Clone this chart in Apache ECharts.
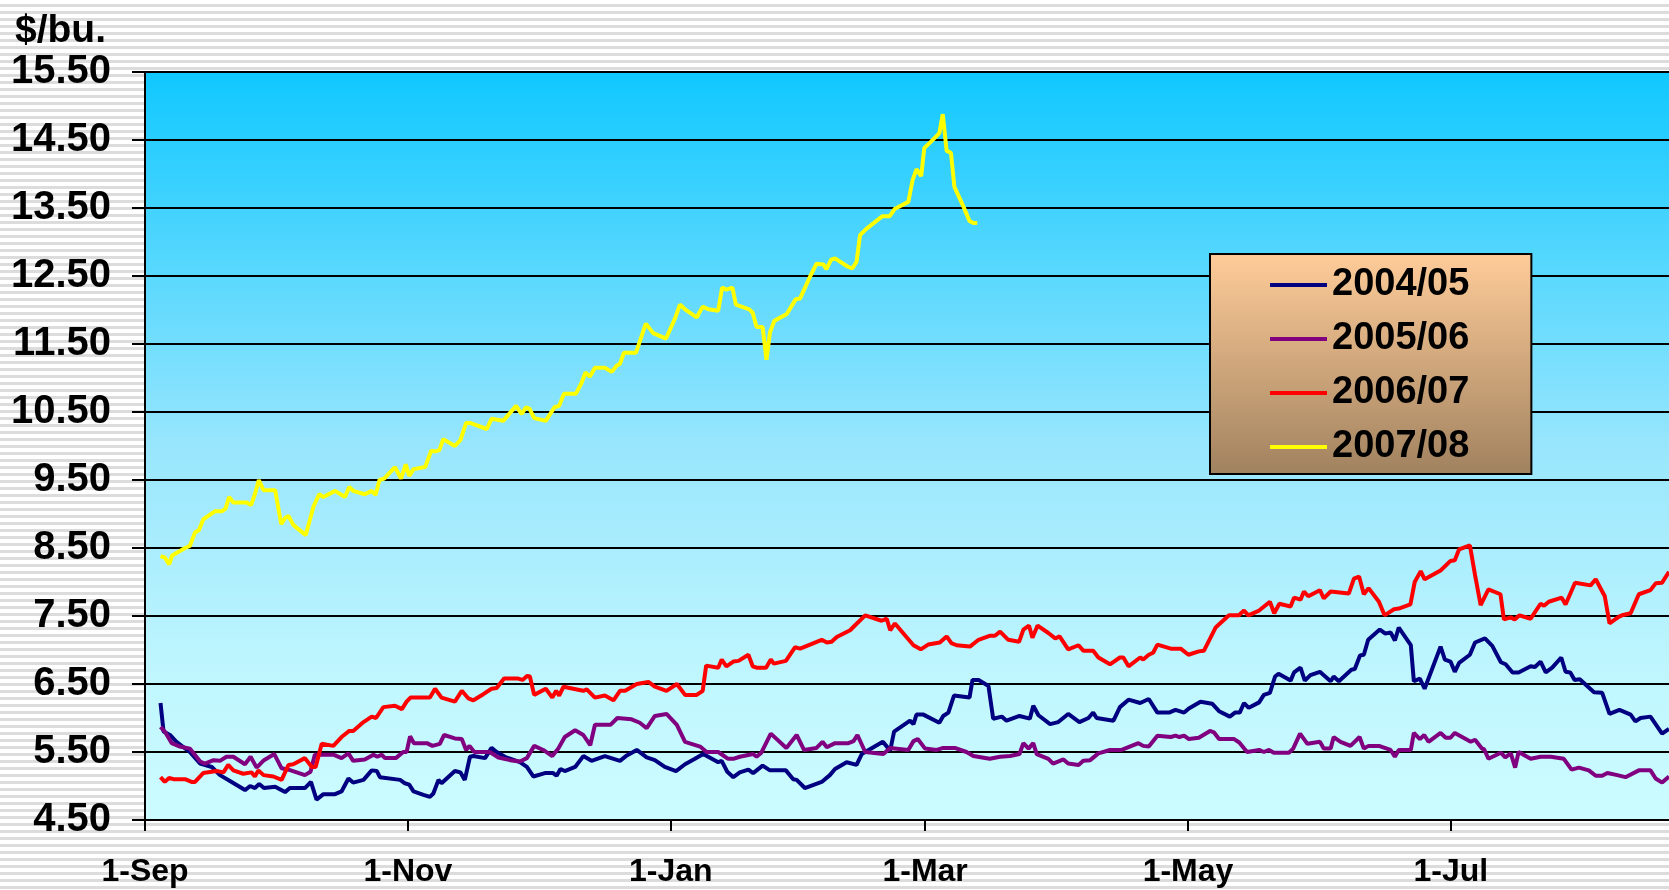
<!DOCTYPE html>
<html>
<head>
<meta charset="utf-8">
<title>Soybean prices</title>
<script src="https://cdn.jsdelivr.net/npm/echarts@6/dist/echarts.min.js"></script>
<style>
  html, body {
    margin: 0;
    padding: 0;
    background: repeating-linear-gradient(to bottom, #ffffff 0px, #ffffff 4px, #dcdcdc 4px, #dcdcdc 7px);
  }
  #chart {
    width: 1669px;
    height: 890px;
  }
</style>
</head>
<body>
<div id="chart"></div>
<script>
  // x = days since 1-Sep, y = $/bu.
  const xTickDays = [0, 61, 122, 181, 242, 303];
  const xTickLabels = ['1-Sep', '1-Nov', '1-Jan', '1-Mar', '1-May', '1-Jul'];
  const seriesNames = ['2004/05', '2005/06', '2006/07', '2007/08'];
  const seriesColors = ['#000080', '#800080', '#ff0000', '#ffff00'];

  const s0405 = [
    [3.6,6.22],[4.3,5.80],[5.8,5.75],[7.3,5.65],[10.4,5.50],[12.8,5.33],[15.5,5.28],[17.4,5.16],[20.1,5.06],[23.2,4.94],
    [24.4,5.00],[25.5,4.97],[26.5,5.03],[27.6,4.97],[30.2,4.99],[32.5,4.91],[33.6,4.97],[37.1,4.97],[38.5,5.06],[39.8,4.80],
    [41.4,4.88],[44.1,4.88],[45.6,4.92],[47.2,5.11],[48.3,5.05],[50.7,5.09],[52.6,5.23],[53.8,5.22],[54.5,5.13],[59.2,5.09],
    [60.3,5.04],[61.3,5.02],[62.3,4.92],[64.6,4.87],[66.1,4.84],[66.9,4.89],[68.1,5.09],[68.8,5.04],[71.9,5.22],[73.2,5.20],
    [74.2,5.09],[75.4,5.43],[76.2,5.44],[78.9,5.41],[80.4,5.56],[81.6,5.50],[83.5,5.43],[87.0,5.35],[88.6,5.28],[90.1,5.14],
    [92.8,5.19],[94.7,5.19],[95.5,5.15],[96.4,5.25],[97.4,5.22],[99.8,5.28],[101.7,5.44],[103.6,5.37],[106.7,5.44],[110.2,5.37],
    [111.8,5.45],[114.1,5.53],[116.4,5.42],[118.3,5.38],[120.6,5.28],[123.2,5.22],[125.3,5.32],[127.6,5.40],[129.5,5.47],
    [133.0,5.35],[133.8,5.37],[135.1,5.21],[136.5,5.13],[138.0,5.20],[140.0,5.24],[141.1,5.19],[143.3,5.30],[145.0,5.23],
    [148.7,5.23],[150.4,5.10],[151.2,5.09],[153.1,4.97],[157.0,5.06],[158.9,5.16],[160.1,5.25],[162.8,5.35],[165.1,5.31],
    [166.3,5.47],[168.2,5.54],[171.2,5.65],[172.9,5.52],[173.8,5.80],[177.5,5.96],[178.3,5.91],[179.0,6.05],[180.6,6.05],
    [184.3,5.93],[185.2,6.03],[186.4,6.08],[187.7,6.33],[191.3,6.30],[192.0,6.56],[193.4,6.56],[195.7,6.47],[196.8,5.99],
    [198.8,6.02],[199.9,5.96],[202.9,6.03],[205.3,5.99],[206.1,6.18],[207.3,6.04],[210.0,5.91],[211.9,5.94],[214.2,6.06],
    [216.8,5.94],[218.9,6.00],[220.0,6.08],[220.8,6.00],[224.7,5.96],[226.2,6.16],[228.2,6.27],[230.9,6.22],[232.9,6.28],
    [234.9,6.08],[237.6,6.08],[239.1,6.12],[241.1,6.08],[242.2,6.14],[244.9,6.24],[247.6,6.21],[249.2,6.10],[251.7,6.02],
    [252.9,6.08],[254.0,6.08],[255.0,6.22],[256.1,6.15],[258.5,6.23],[259.6,6.34],[261.0,6.37],[262.2,6.61],[263.0,6.65],
    [265.8,6.55],[266.6,6.67],[268.1,6.74],[269.1,6.55],[270.4,6.63],[272.6,6.68],[273.5,6.63],[275.1,6.54],[275.8,6.61],
    [277.0,6.54],[279.9,6.71],[280.7,6.72],[281.9,6.92],[282.8,6.93],[283.8,7.15],[286.5,7.30],[287.8,7.24],[289.0,7.26],
    [290.0,7.14],[290.9,7.33],[293.7,7.07],[294.4,6.54],[295.8,6.58],[296.9,6.43],[300.6,7.05],[301.6,6.86],[302.9,6.83],
    [303.9,6.68],[304.9,6.81],[307.4,6.93],[308.6,7.11],[310.9,7.17],[312.6,7.06],[314.6,6.82],[315.7,6.79],[317.3,6.67],
    [318.7,6.67],[321.5,6.76],[322.5,6.75],[323.8,6.83],[325.0,6.67],[326.5,6.74],[328.6,6.89],[329.6,6.68],[330.7,6.67],
    [331.7,6.56],[332.9,6.57],[336.2,6.38],[338.1,6.37],[339.8,6.06],[342.1,6.12],[344.7,6.05],[345.8,5.95],[347.0,6.00],
    [349.3,6.02],[352.0,5.77],[353.6,5.84]
  ];

  const s0506 = [
    [3.6,5.87],[4.6,5.80],[6.2,5.63],[8.1,5.58],[10.4,5.55],[12.8,5.36],[13.9,5.33],[15.9,5.38],[17.4,5.37],[18.9,5.43],
    [20.5,5.43],[23.2,5.32],[24.5,5.43],[25.9,5.27],[27.6,5.38],[30.0,5.47],[31.7,5.26],[33.3,5.24],[35.2,5.20],[37.1,5.16],
    [38.4,5.21],[39.4,5.46],[41.0,5.46],[43.7,5.46],[45.6,5.41],[47.2,5.48],[48.3,5.37],[51.0,5.39],[53.0,5.46],[53.9,5.43],
    [54.9,5.46],[55.7,5.41],[58.2,5.41],[59.9,5.50],[60.7,5.50],[61.5,5.73],[62.4,5.63],[65.4,5.63],[66.7,5.59],[68.4,5.62],
    [69.4,5.75],[71.9,5.70],[73.5,5.69],[74.5,5.53],[75.3,5.59],[76.4,5.50],[80.0,5.50],[82.0,5.42],[84.7,5.38],[87.0,5.36],
    [88.6,5.41],[90.3,5.59],[92.4,5.53],[94.5,5.44],[95.9,5.55],[97.4,5.72],[99.8,5.82],[101.7,5.75],[103.3,5.60],[104.4,5.90],
    [108.0,5.90],[109.6,6.00],[112.9,5.98],[114.8,5.93],[116.4,5.85],[118.3,6.03],[121.0,6.06],[123.4,5.90],[125.3,5.65],
    [128.8,5.58],[130.3,5.50],[133.0,5.50],[135.3,5.40],[136.5,5.40],[138.0,5.43],[141.1,5.47],[141.9,5.43],[143.0,5.49],
    [145.2,5.77],[148.8,5.56],[151.2,5.75],[152.9,5.53],[155.8,5.56],[157.2,5.65],[158.2,5.57],[160.1,5.63],[163.2,5.63],
    [164.4,5.66],[165.3,5.75],[167.1,5.50],[171.3,5.47],[172.9,5.56],[177.1,5.53],[178.3,5.66],[179.3,5.69],[181.0,5.55],
    [183.7,5.53],[185.2,5.56],[187.9,5.56],[190.6,5.50],[192.2,5.44],[196.0,5.40],[198.4,5.43],[200.7,5.44],[202.9,5.47],
    [203.8,5.63],[205.0,5.55],[206.1,5.63],[206.9,5.47],[209.6,5.40],[210.7,5.33],[213.1,5.39],[214.2,5.33],[216.6,5.31],
    [217.7,5.37],[219.3,5.38],[221.2,5.48],[223.9,5.53],[226.6,5.53],[230.5,5.63],[231.6,5.59],[232.9,5.58],[234.9,5.74],
    [238.0,5.72],[239.1,5.74],[240.0,5.72],[241.1,5.74],[242.2,5.69],[244.5,5.71],[247.1,5.81],[248.0,5.79],[249.2,5.69],
    [252.7,5.69],[253.9,5.64],[255.7,5.50],[258.5,5.53],[259.6,5.50],[260.8,5.53],[261.9,5.49],[265.4,5.49],[266.4,5.55],
    [268.0,5.77],[269.7,5.62],[272.6,5.65],[273.5,5.55],[275.1,5.55],[275.8,5.72],[277.4,5.65],[279.7,5.59],[281.8,5.72],
    [282.8,5.55],[283.9,5.59],[286.3,5.59],[289.0,5.53],[290.0,5.43],[290.9,5.53],[293.7,5.53],[294.4,5.78],[295.8,5.69],
    [296.8,5.75],[297.8,5.65],[300.6,5.78],[301.8,5.71],[302.9,5.71],[303.9,5.78],[307.6,5.65],[308.6,5.68],[310.2,5.55],
    [310.7,5.54],[311.7,5.40],[314.6,5.49],[315.6,5.42],[316.9,5.48],[317.9,5.27],[318.7,5.50],[321.5,5.40],[323.8,5.43],
    [326.2,5.43],[329.2,5.40],[331.0,5.24],[332.7,5.27],[335.0,5.23],[336.6,5.15],[338.1,5.15],[339.3,5.19],[341.6,5.16],
    [343.5,5.13],[346.6,5.23],[349.3,5.23],[350.5,5.11],[352.0,5.05],[353.6,5.14]
  ];

  const s0607 = [
    [3.6,5.13],[4.6,5.06],[5.6,5.12],[6.6,5.10],[9.3,5.10],[10.8,5.06],[11.6,5.06],[13.5,5.19],[16.6,5.22],[18.2,5.20],
    [19.3,5.31],[20.5,5.23],[22.8,5.18],[24.7,5.20],[25.5,5.14],[26.3,5.23],[27.5,5.16],[29.8,5.14],[31.7,5.09],[33.3,5.31],
    [34.4,5.32],[37.1,5.41],[38.7,5.28],[39.6,5.28],[41.0,5.62],[43.7,5.59],[45.6,5.72],[47.4,5.81],[48.3,5.81],[50.7,5.94],
    [52.6,6.02],[53.6,6.00],[55.3,6.16],[58.0,6.18],[59.6,6.13],[60.7,6.24],[61.6,6.30],[66.1,6.30],[67.3,6.43],[68.8,6.30],
    [71.9,6.24],[73.5,6.40],[75.0,6.29],[76.2,6.26],[78.5,6.35],[80.4,6.43],[81.6,6.44],[83.3,6.58],[86.6,6.58],[87.6,6.56],
    [88.7,6.62],[89.3,6.61],[90.3,6.34],[93.0,6.43],[94.5,6.30],[95.4,6.40],[96.1,6.33],[97.1,6.46],[100.2,6.42],[101.7,6.40],
    [102.5,6.42],[104.4,6.30],[106.7,6.33],[108.7,6.26],[110.2,6.40],[111.4,6.40],[114.1,6.50],[116.8,6.53],[118.3,6.46],
    [121.0,6.40],[123.4,6.50],[125.3,6.34],[128.0,6.34],[129.4,6.40],[130.2,6.77],[133.0,6.74],[133.8,6.86],[134.9,6.76],
    [136.5,6.83],[137.7,6.84],[140.0,6.93],[141.0,6.76],[141.9,6.74],[144.1,6.74],[145.2,6.86],[145.9,6.80],[148.7,6.84],
    [150.8,7.04],[152.0,7.02],[154.3,7.08],[157.0,7.15],[158.2,7.11],[159.3,7.12],[160.5,7.19],[163.6,7.29],[164.7,7.36],
    [167.1,7.51],[170.9,7.43],[172.1,7.46],[172.9,7.29],[174.0,7.39],[178.3,7.07],[180.0,7.01],[181.7,7.08],[184.4,7.11],
    [186.0,7.20],[187.1,7.10],[188.3,7.07],[191.4,7.05],[193.4,7.15],[196.1,7.21],[197.2,7.21],[198.4,7.27],[200.3,7.15],
    [202.8,7.12],[203.8,7.30],[205.1,7.36],[205.9,7.18],[207.1,7.36],[209.6,7.25],[211.2,7.17],[212.2,7.20],[214.2,7.01],
    [216.6,7.07],[217.7,6.99],[220.0,6.99],[221.2,6.89],[223.9,6.79],[226.2,6.89],[227.0,6.89],[228.2,6.76],[230.9,6.89],
    [231.6,6.86],[232.9,6.93],[233.9,6.96],[234.9,7.08],[238.0,7.02],[240.3,7.02],[242.1,6.93],[244.5,6.98],[245.7,6.99],
    [248.4,7.33],[251.5,7.51],[253.8,7.51],[255.0,7.58],[256.0,7.51],[258.5,7.58],[261.0,7.71],[262.0,7.54],[263.2,7.68],
    [265.8,7.64],[266.6,7.77],[268.1,7.74],[268.9,7.86],[269.9,7.79],[272.6,7.88],[273.5,7.76],[275.1,7.86],[279.3,7.83],
    [280.5,8.05],[281.7,8.08],[282.8,7.82],[283.9,7.91],[286.3,7.71],[287.6,7.51],[289.8,7.60],[290.9,7.61],[293.6,7.67],
    [294.6,8.00],[296.0,8.16],[296.9,8.04],[300.6,8.17],[302.9,8.31],[303.9,8.32],[304.9,8.48],[307.4,8.54],[308.6,8.10],
    [309.9,7.66],[311.7,7.89],[314.5,7.82],[315.3,7.45],[316.9,7.48],[317.8,7.45],[318.9,7.51],[321.5,7.46],[323.8,7.68],
    [324.6,7.65],[325.7,7.71],[328.7,7.77],[329.6,7.67],[331.8,7.99],[335.4,7.95],[336.6,8.04],[338.7,7.79],[339.8,7.39],
    [342.0,7.49],[342.7,7.51],[344.7,7.54],[346.6,7.82],[349.3,7.88],[350.5,7.98],[352.0,7.99],[353.6,8.15]
  ];

  const s0708 = [
    [3.6,8.38],[4.6,8.36],[5.6,8.26],[6.3,8.39],[9.3,8.50],[10.4,8.53],[11.6,8.73],[12.5,8.76],[13.5,8.92],[16.2,9.04],
    [17.8,9.04],[18.7,9.08],[19.5,9.25],[20.5,9.17],[23.6,9.17],[24.6,9.13],[25.5,9.29],[26.4,9.50],[27.5,9.35],[30.2,9.35],
    [31.6,8.85],[32.5,8.94],[33.3,8.97],[34.4,8.84],[37.3,8.69],[39.1,9.11],[40.4,9.29],[41.4,9.25],[44.1,9.34],[46.4,9.25],
    [47.4,9.40],[48.3,9.34],[51.0,9.29],[52.6,9.34],[53.5,9.28],[54.4,9.50],[55.5,9.52],[58.0,9.69],[59.4,9.52],[60.5,9.73],
    [61.3,9.56],[62.3,9.66],[65.0,9.69],[66.4,9.93],[67.3,9.92],[68.3,9.94],[69.2,10.10],[71.9,10.00],[73.2,10.09],[74.5,10.34],
    [75.4,10.34],[79.3,10.25],[80.4,10.40],[83.1,10.37],[86.1,10.59],[87.4,10.47],[88.4,10.57],[89.2,10.55],[90.3,10.41],
    [93.0,10.37],[95.0,10.57],[96.1,10.59],[97.2,10.77],[100.0,10.77],[101.3,10.93],[102.2,11.08],[103.2,11.02],[104.4,11.15],
    [106.7,11.15],[108.3,11.09],[109.4,11.18],[110.2,11.21],[111.1,11.37],[113.9,11.37],[116.2,11.80],[117.9,11.66],
    [120.9,11.58],[123.0,11.88],[124.1,12.08],[125.3,12.01],[128.0,11.89],[129.4,12.05],[130.7,12.01],[133.0,11.99],
    [133.9,12.33],[134.9,12.30],[136.3,12.33],[137.1,12.08],[140.2,12.01],[141.0,11.96],[141.9,11.75],[143.3,11.75],
    [144.2,11.27],[145.0,11.67],[146.0,11.84],[148.9,11.94],[151.0,12.16],[152.0,12.17],[154.3,12.49],[155.8,12.68],
    [157.4,12.67],[158.1,12.60],[159.2,12.74],[160.1,12.76],[163.0,12.64],[164.1,12.61],[165.1,12.71],[165.9,13.10],
    [167.3,13.19],[171.1,13.38],[172.8,13.38],[174.0,13.49],[177.1,13.59],[178.1,13.91],[179.0,14.07],[180.1,13.97],
    [180.8,14.38],[182.9,14.51],[184.3,14.60],[185.1,14.88],[186.0,14.34],[187.0,14.31],[187.8,13.81],[189.9,13.52],
    [191.3,13.31],[192.2,13.28],[193.1,13.28]
  ];

  const seriesData = [s0405, s0506, s0607, s0708];

  const FONT = '"Liberation Sans", Arial, sans-serif';

  let myChart = echarts.init(document.getElementById('chart'));

  let options = {
    animation: false,
    backgroundColor: 'transparent',
    title: {
      text: '$/bu.',
      left: 15,
      top: 12,
      padding: 0,
      textStyle: {
        color: '#000',
        fontFamily: FONT,
        fontWeight: 'bold',
        fontSize: 39
      }
    },
    legend: {
      orient: 'vertical',
      left: 1210,
      top: 254,
      padding: [12, 62, 8, 60],
      itemGap: 16,
      itemWidth: 57,
      itemHeight: 4,
      icon: 'rect',
      borderColor: '#000',
      borderWidth: 2,
      backgroundColor: {
        type: 'linear', x: 0, y: 0, x2: 0, y2: 1,
        colorStops: [
          { offset: 0, color: '#ffcc99' },
          { offset: 1, color: '#a0825f' }
        ]
      },
      textStyle: {
        color: '#000',
        fontFamily: FONT,
        fontWeight: 'bold',
        fontSize: 38
      },
      data: seriesNames
    },
    grid: {
      left: 145,
      right: 0,
      top: 72,
      bottom: 70,
      outerBoundsMode: 'none',
      show: true,
      borderWidth: 0,
      backgroundColor: {
        type: 'linear', x: 0, y: 0, x2: 0, y2: 1,
        colorStops: [
          { offset: 0, color: '#10c8ff' },
          { offset: 0.5, color: '#98e6fd' },
          { offset: 0.8, color: '#bff6fe' },
          { offset: 1, color: '#ccfcff' }
        ]
      }
    },
    xAxis: {
      type: 'value',
      min: 0,
      max: 353.6,
      axisLine: { show: true, onZero: false, lineStyle: { color: '#000', width: 2 } },
      axisTick: {
        show: true,
        inside: false,
        length: 11,
        customValues: xTickDays,
        lineStyle: { color: '#000', width: 2 }
      },
      axisLabel: {
        customValues: xTickDays,
        margin: 36,
        color: '#000',
        fontFamily: FONT,
        fontWeight: 'bold',
        fontSize: 32,
        formatter: function (v) {
          let i = xTickDays.indexOf(Math.round(v));
          return i >= 0 ? xTickLabels[i] : '';
        }
      },
      splitLine: { show: false }
    },
    yAxis: {
      type: 'value',
      min: 4.5,
      max: 15.5,
      interval: 1,
      axisLine: { show: true, lineStyle: { color: '#000', width: 2 } },
      axisTick: { show: true, inside: false, length: 13, lineStyle: { color: '#000', width: 2 } },
      axisLabel: {
        margin: 34,
        color: '#000',
        fontFamily: FONT,
        fontWeight: 'bold',
        fontSize: 40,
        showMinLabel: true,
        showMaxLabel: true,
        formatter: function (v) { return v.toFixed(2); }
      },
      splitLine: { show: true, lineStyle: { color: '#000', width: 2 } }
    },
    series: seriesNames.map(function (name, i) {
      return {
        name: name,
        type: 'line',
        data: seriesData[i],
        showSymbol: false,
        symbol: 'none',
        clip: true,
        color: seriesColors[i],
        lineStyle: { color: seriesColors[i], width: 4 },
        emphasis: { disabled: true }
      };
    })
  };

  myChart.setOption(options);
</script>
</body>
</html>
